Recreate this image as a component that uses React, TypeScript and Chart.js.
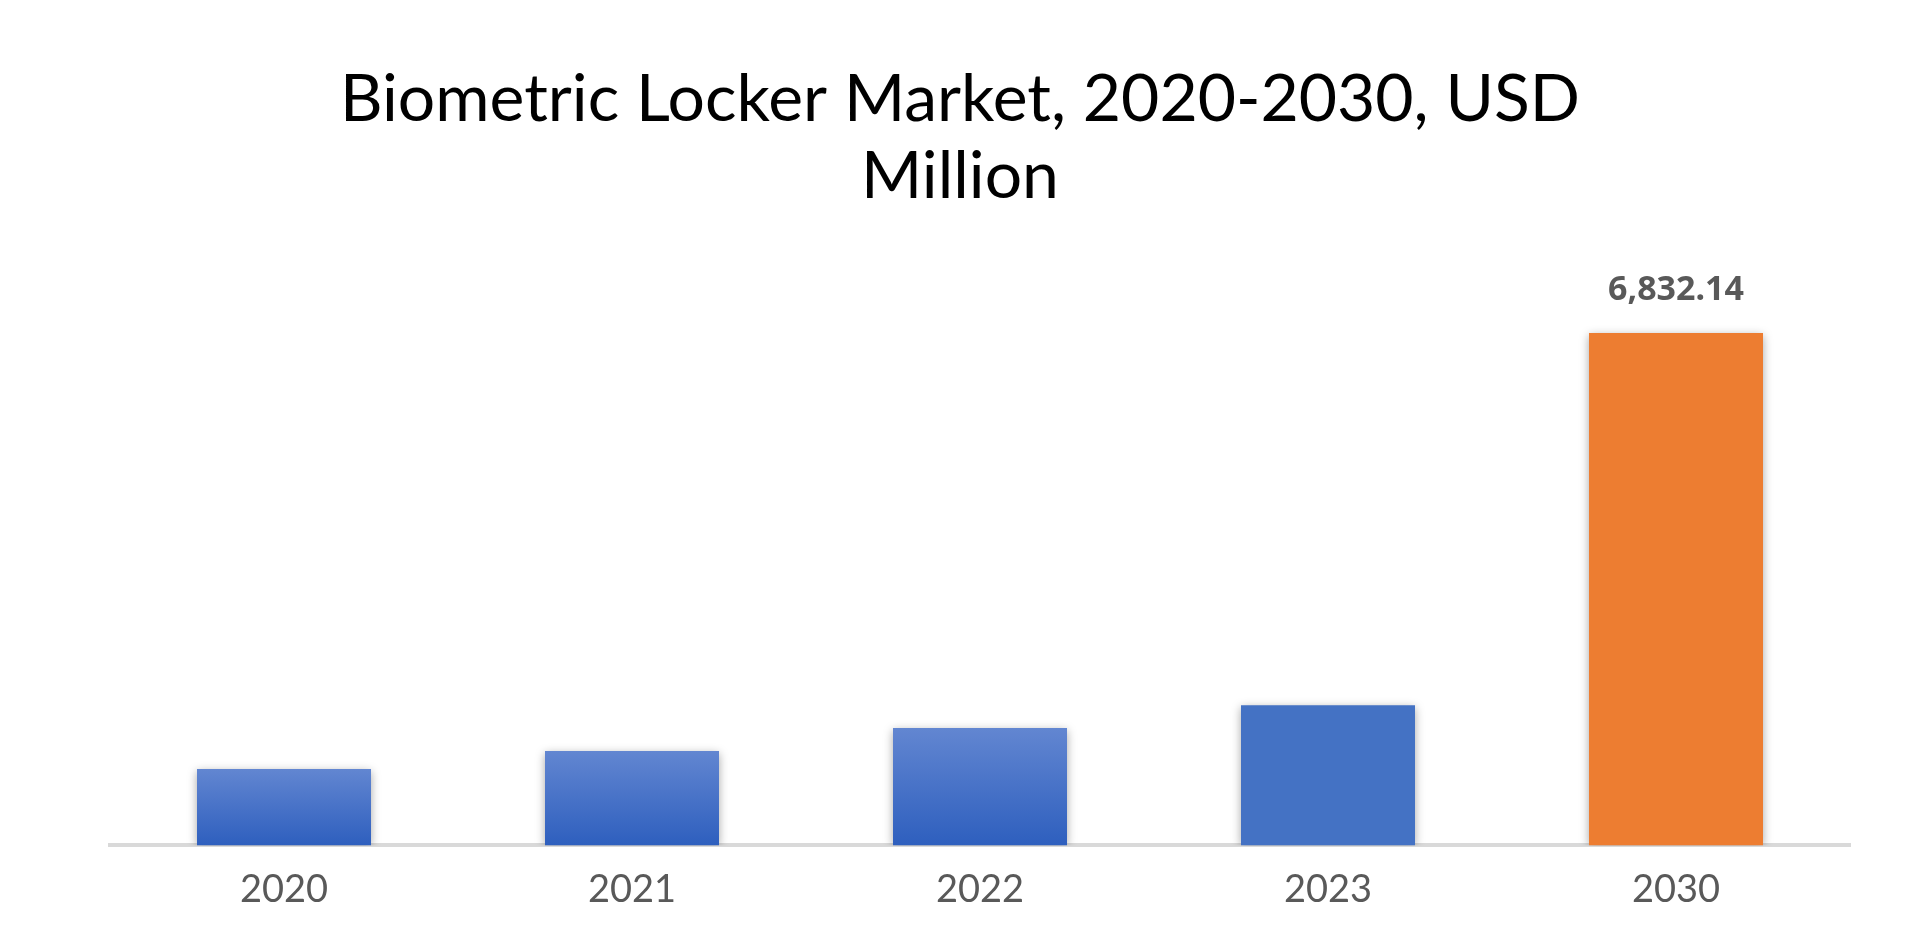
import React, { useEffect, useRef } from "react";
import { Chart, registerables } from "chart.js";

Chart.register(...registerables);

const categories = ["2020", "2021", "2022", "2023", "2030"];
const values = [1020, 1260, 1565, 1870, 6832.14];
const gradientTop = ["#6286d1", "#6286d1", "#6286d1", "#4472c4", "#ed7d31"];
const gradientBottom = ["#2e5fbe", "#2e5fbe", "#2e5fbe", "#4472c4", "#ed7d31"];
const titleLines = ["Biometric Locker Market, 2020-2030, USD", "Million"];
const labeledIndex = 4;

const shadowPlugin = {
  id: "barShadow",
  beforeDatasetsDraw(chart: any) {
    const ctx = chart.ctx;
    ctx.save();
    ctx.shadowColor = "rgba(0,0,0,0.35)";
    ctx.shadowBlur = 9;
    ctx.shadowOffsetX = 0;
    ctx.shadowOffsetY = 2;
  },
  afterDatasetsDraw(chart: any) {
    chart.ctx.restore();
  },
};

const valueLabelPlugin = {
  id: "valueLabel",
  afterDatasetsDraw(chart: any) {
    const ctx = chart.ctx;
    const meta = chart.getDatasetMeta(0);
    const el = meta.data[labeledIndex];
    if (!el) return;
    const v = values[labeledIndex];
    ctx.save();
    ctx.font = "bold 34px 'Noto Sans'";
    ctx.fillStyle = "#595959";
    ctx.textAlign = "center";
    ctx.textBaseline = "middle";
    ctx.fillText(
      v.toLocaleString("en-US", { minimumFractionDigits: 2, maximumFractionDigits: 2 }),
      el.x,
      el.y - 43
    );
    ctx.restore();
  },
};

export default function App() {
  const ref = useRef<HTMLCanvasElement | null>(null);
  useEffect(() => {
    if (!ref.current) return;
    const chart = new Chart(ref.current, {
      type: "bar",
      data: {
        labels: categories,
        datasets: [
          {
            data: values,
            backgroundColor: (c: any) => {
              const i = c.dataIndex;
              const chartRef = c.chart;
              const y = chartRef.scales && chartRef.scales.y;
              if (!chartRef.chartArea || !y || i === undefined) return gradientTop[i ?? 0];
              const top = y.getPixelForValue(values[i]);
              const bottom = y.getPixelForValue(0);
              const g = chartRef.ctx.createLinearGradient(0, top, 0, bottom);
              g.addColorStop(0, gradientTop[i]);
              g.addColorStop(1, gradientBottom[i]);
              return g;
            },
            borderWidth: 0,
            categoryPercentage: 1,
            barPercentage: 0.5,
          },
        ],
      },
      options: {
        animation: false,
        responsive: true,
        maintainAspectRatio: false,
        layout: { padding: { left: 62, right: 62, top: 0, bottom: 0 } },
        plugins: {
          legend: { display: false },
          tooltip: { enabled: false },
          title: {
            display: true,
            text: titleLines,
            color: "#000000",
            font: { family: "Lato", size: 66, weight: "normal", lineHeight: 1.17 },
            padding: { top: 53, bottom: 105 },
          },
        },
        scales: {
          x: {
            grid: { display: false, drawTicks: false },
            border: { display: true, color: "#d9d9d9", width: 4 },
            ticks: {
              color: "#595959",
              font: { family: "Lato", size: 38 },
              padding: 22,
            },
          },
          y: {
            display: true,
            min: 0,
            max: 7000,
            grid: { display: false, drawTicks: false },
            border: { display: false },
            ticks: { display: false },
            afterFit: (scale: any) => {
              scale.width = 40;
            },
          },
        },
      },
      plugins: [shadowPlugin, valueLabelPlugin],
    });
    return () => chart.destroy();
  }, []);
  return (
    <div style={{ width: "1904px", height: "927px", position: "relative" }}>
      <canvas ref={ref} />
    </div>
  );
}
